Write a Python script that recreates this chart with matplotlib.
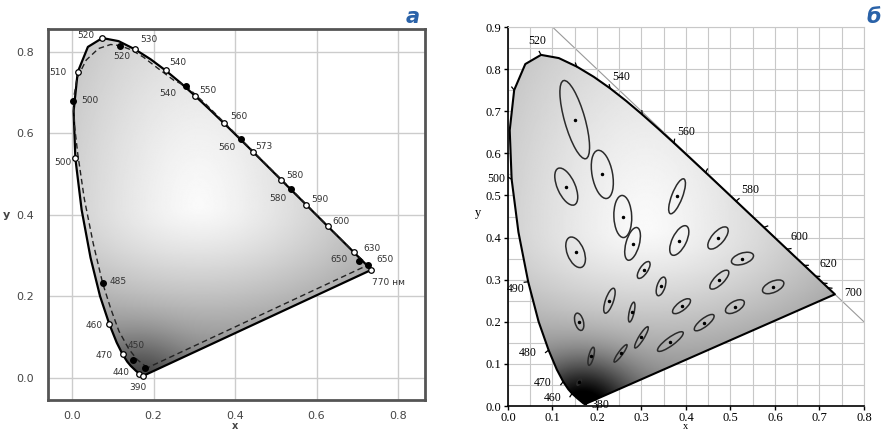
import numpy as np
import matplotlib
matplotlib.use('Agg')
import matplotlib.pyplot as plt
from matplotlib.patches import Ellipse, Polygon

# CIE 1931 spectral locus (nm, x, y)
wl = [380, 390, 400, 410, 420, 430, 440, 450, 460, 465, 470, 475, 480, 485, 490, 495,
      500, 505, 510, 515, 520, 525, 530, 535, 540, 545, 550, 555, 560, 565, 570, 575,
      580, 585, 590, 595, 600, 605, 610, 620, 630, 640, 650, 660, 680, 700]
loc_x = [0.1741, 0.1738, 0.1733, 0.1726, 0.1714, 0.1689, 0.1644, 0.1566, 0.1440, 0.1355,
         0.1241, 0.1096, 0.0913, 0.0687, 0.0454, 0.0235, 0.0082, 0.0039, 0.0139, 0.0389,
         0.0743, 0.1142, 0.1547, 0.1929, 0.2296, 0.2658, 0.3016, 0.3373, 0.3731, 0.4087,
         0.4441, 0.4788, 0.5125, 0.5448, 0.5752, 0.6029, 0.6270, 0.6482, 0.6658, 0.6915,
         0.7079, 0.7190, 0.7260, 0.7300, 0.7334, 0.7347]
loc_y = [0.0050, 0.0049, 0.0048, 0.0048, 0.0051, 0.0069, 0.0109, 0.0177, 0.0297, 0.0399,
         0.0578, 0.0868, 0.1327, 0.2007, 0.2950, 0.4127, 0.5384, 0.6548, 0.7502, 0.8120,
         0.8338, 0.8262, 0.8059, 0.7816, 0.7543, 0.7243, 0.6923, 0.6589, 0.6245, 0.5896,
         0.5547, 0.5202, 0.4866, 0.4544, 0.4242, 0.3965, 0.3725, 0.3514, 0.3340, 0.3083,
         0.2920, 0.2809, 0.2740, 0.2700, 0.2666, 0.2653]

# panel a: second (dashed) locus
dash_x = [0.185, 0.16, 0.14, 0.115, 0.095, 0.075, 0.052, 0.03, 0.014, 0.006, 0.003, 0.012,
          0.035, 0.065, 0.095, 0.118, 0.145, 0.175, 0.21, 0.25, 0.28, 0.33, 0.414, 0.47,
          0.537, 0.59, 0.64, 0.69, 0.726, 0.185]
dash_y = [0.025, 0.045, 0.07, 0.115, 0.17, 0.233, 0.33, 0.44, 0.55, 0.62, 0.68, 0.735,
          0.78, 0.808, 0.818, 0.815, 0.805, 0.787, 0.76, 0.73, 0.716, 0.67, 0.586, 0.53,
          0.464, 0.41, 0.36, 0.31, 0.277, 0.025]

# panel a: labelled points
a_open = [520, 530, 540, 550, 560, 570, 580, 590, 600, 620, 700, 510, 500, 480, 470, 440, 380]
a_open_txt = ['520', '530', '540', '550', '560', '573', '580', '590', '600', '630', '770 нм',
              '510', '500', '460', '470', '440', '390']
a_open_off = [(-12, 2), (10, 7), (9, 6), (9, 4), (11, 5), (8, 4), (10, 3), (10, 4), (10, 3),
              (13, 3), (12, -9), (-14, 0), (-9, -3), (-11, -1), (-13, -1), (-13, 1), (-4, -8)]
a_fill_x = [0.118, 0.003, 0.28, 0.414, 0.537, 0.726, 0.705, 0.076, 0.15, 0.18]
a_fill_y = [0.815, 0.68, 0.716, 0.586, 0.464, 0.277, 0.287, 0.233, 0.045, 0.025]
a_fill_txt = ['520', '500', '540', '560', '580', '650', '650', '485', '450', '']
a_fill_off = [(1, -8), (12, 0), (-13, -5), (-10, -6), (-9, -7), (12, 4), (-15, 1), (11, 1), (2, 10), (0, 0)]

# panel б: MacAdam ellipses (x10)
mac_x = [0.160, 0.187, 0.253, 0.150, 0.131, 0.212, 0.258, 0.152, 0.280, 0.380, 0.160, 0.228,
         0.305, 0.385, 0.472, 0.527, 0.475, 0.510, 0.596, 0.344, 0.390, 0.441, 0.278, 0.300, 0.365]
mac_y = [0.057, 0.118, 0.125, 0.680, 0.521, 0.550, 0.450, 0.365, 0.385, 0.498, 0.200, 0.250,
         0.323, 0.393, 0.399, 0.350, 0.300, 0.236, 0.283, 0.284, 0.237, 0.198, 0.223, 0.163, 0.153]
mac_a = [0.85, 2.2, 2.5, 9.6, 4.7, 5.8, 5.0, 3.8, 4.0, 4.4, 2.1, 3.1, 2.3, 3.8, 3.2, 2.6, 2.9,
         2.4, 2.6, 2.3, 2.5, 2.8, 2.4, 2.9, 3.6]
mac_b = [0.35, 0.55, 0.50, 2.3, 2.0, 2.3, 2.0, 1.9, 1.5, 1.2, 0.95, 0.90, 0.90, 1.6, 1.4, 1.3,
         1.1, 1.2, 1.3, 0.9, 1.0, 0.95, 0.55, 0.60, 0.95]
mac_t = [62.5, 77.0, 55.5, 105.0, 112.5, 100.0, 92.0, 110.0, 75.5, 70.0, 104.0, 72.0, 58.0,
         65.5, 51.0, 20.0, 47.0, 32.5, 26.0, 73.0, 40.0, 40.0, 78.0, 60.0, 38.0]

b_lab = [520, 540, 560, 580, 600, 620, 700, 500, 490, 480, 470, 460, 380]
b_lab_off = [(-3, 10), (8, 8), (9, 8), (10, 8), (9, 9), (9, 9), (13, 1), (-11, 0), (-9, -5),
             (-15, -2), (-15, -1), (-14, -3), (11, -1)]


def shade(ax, px, py, ext, spot):
    # grey fill: light in the middle, darker towards the purple line and blue corner
    X, Y = np.meshgrid(np.linspace(ext[0], ext[1], 400), np.linspace(ext[2], ext[3], 400))
    wy = np.where(Y > 0.42, 0.4, 1.25)
    d = np.sqrt(((X - 0.31) * 0.7) ** 2 + ((Y - 0.42) * wy) ** 2)
    g = 0.98 - 1.2 * d ** 1.3 - spot * np.exp(-((X - 0.17) ** 2 + Y ** 2) / 0.012)
    g = np.clip(g, 0, 1)
    poly = Polygon(np.column_stack([px, py]), closed=True, fc='none', ec='none')
    ax.add_patch(poly)
    im = ax.imshow(g, extent=ext, origin='lower', cmap='gray', vmin=0, vmax=1,
                   aspect='auto', zorder=1, interpolation='bilinear')
    im.set_clip_path(poly)


fig = plt.figure(figsize=(8.87, 4.30), dpi=100)

# ---------------- panel a ----------------
ax1 = fig.add_axes([0.0541, 0.0698, 0.425, 0.8628])
ax1.set_xlim(-0.059, 0.866)
ax1.set_ylim(-0.054, 0.856)
shade(ax1, loc_x, loc_y, [-0.059, 0.866, -0.054, 0.856], 0.2)
ax1.plot(loc_x + [loc_x[0]], loc_y + [loc_y[0]], color='black', lw=1.6, zorder=3)
ax1.plot(dash_x, dash_y, color='#222222', lw=1.0, ls=(0, (4, 2.5)), zorder=3)
ax1.set_xticks([0.0, 0.2, 0.4, 0.6, 0.8])
ax1.set_yticks([0.0, 0.2, 0.4, 0.6, 0.8])
ax1.set_xticklabels(['0.0', '0.2', '0.4', '0.6', '0.8'])
ax1.set_yticklabels(['0.0', '0.2', '0.4', '0.6', '0.8'])
ax1.tick_params(length=0, pad=10, labelsize=8, labelcolor='#444444')
ax1.tick_params(axis='x', pad=8)
ax1.grid(True, color='#cccccc', lw=1.0, zorder=0)
ax1.set_axisbelow(True)
for s in ax1.spines.values():
    s.set_color('#555555')
    s.set_linewidth(2)

for w, t, off in zip(a_open, a_open_txt, a_open_off):
    i = wl.index(w)
    ax1.plot(loc_x[i], loc_y[i], 'o', ms=4, mfc='white', mec='black', mew=0.9, zorder=5)
    ax1.annotate(t, (loc_x[i], loc_y[i]), xytext=off, textcoords='offset points',
                 ha='center', va='center', fontsize=6.5, color='#333333', zorder=6)
for x, y, t, off in zip(a_fill_x, a_fill_y, a_fill_txt, a_fill_off):
    ax1.plot(x, y, 'o', ms=4, color='black', zorder=5)
    if t:
        ax1.annotate(t, (x, y), xytext=off, textcoords='offset points',
                     ha='center', va='center', fontsize=6.5, color='#333333', zorder=6)

fig.text(6 / 887, 1 - 215 / 430, 'y', fontsize=8, fontweight='bold', color='#444444',
         ha='center', va='center')
fig.text(235 / 887, 1 / 430, 'x', fontsize=7, fontweight='bold', color='#444444',
         ha='center', va='baseline')
fig.text(413 / 887, 1 - 17 / 430, 'a', fontsize=15, fontweight='bold', style='italic',
         color='#2a62a8', ha='center', va='center')

# ---------------- panel б ----------------
ax2 = fig.add_axes([0.5727, 0.0558, 0.4013, 0.8814])
ax2.set_xlim(0, 0.8)
ax2.set_ylim(0, 0.9)
ax2.plot([0.1, 0.8], [0.9, 0.2], color='#999999', lw=0.8, zorder=0.5)
shade(ax2, loc_x, loc_y, [0, 0.8, 0, 0.9], 0.55)
ax2.plot(loc_x + [loc_x[0]], loc_y + [loc_y[0]], color='black', lw=1.5, zorder=3)
ax2.set_xticks(np.arange(0, 0.81, 0.1))
ax2.set_yticks(np.arange(0, 0.91, 0.1))
ax2.set_xticks(np.arange(0.05, 0.8, 0.1), minor=True)
ax2.set_yticks(np.arange(0.05, 0.9, 0.1), minor=True)
ax2.set_xticklabels(['%.1f' % v for v in np.arange(0, 0.81, 0.1)], family='Liberation Serif')
ax2.set_yticklabels(['%.1f' % v for v in np.arange(0, 0.91, 0.1)], family='Liberation Serif')
ax2.tick_params(which='major', length=3, width=1, pad=2, labelsize=9)
ax2.tick_params(axis='x', pad=1)
ax2.tick_params(which='minor', length=0)
ax2.grid(True, which='both', color='#c8c8c8', lw=0.8, zorder=0)
ax2.set_axisbelow(True)
for s in ['top', 'right']:
    ax2.spines[s].set_color('#c8c8c8')
    ax2.spines[s].set_linewidth(0.8)
for s in ['left', 'bottom']:
    ax2.spines[s].set_linewidth(1.2)

# ticks on the locus every 10 nm
for w, x, y in zip(wl, loc_x, loc_y):
    if w % 10 == 0 and 460 <= w <= 640:
        dx, dy = x - 0.33, y - 0.33
        n = np.hypot(dx, dy)
        ax2.plot([x, x + 0.009 * dx / n], [y, y + 0.009 * dy / n], color='black', lw=0.9, zorder=3)

for w, off in zip(b_lab, b_lab_off):
    i = wl.index(w)
    ax2.annotate(str(w), (loc_x[i], loc_y[i]), xytext=off, textcoords='offset points',
                 ha='center', va='center', fontsize=8.5, family='Liberation Serif', zorder=6,
                 annotation_clip=False)

for x, y, a, b, t in zip(mac_x, mac_y, mac_a, mac_b, mac_t):
    e = Ellipse((x, y), width=2 * a * 0.01, height=2 * b * 0.01, angle=t,
                fc='none', ec='#2b2b2b', lw=1.1, zorder=4)
    ax2.add_patch(e)
    ax2.plot(x, y, 'o', ms=1.5, color='black', zorder=5)

fig.text(478 / 887, 1 - 213 / 430, 'y', fontsize=9, family='Liberation Serif',
         ha='center', va='center')
fig.text(686 / 887, 1 / 430, 'x', fontsize=7.5, family='Liberation Serif',
         ha='center', va='baseline')
fig.text(874 / 887, 1 - 17 / 430, 'б', fontsize=15, fontweight='bold', style='italic',
         color='#2a62a8', ha='center', va='center')

fig.savefig('out.png', dpi=100)
